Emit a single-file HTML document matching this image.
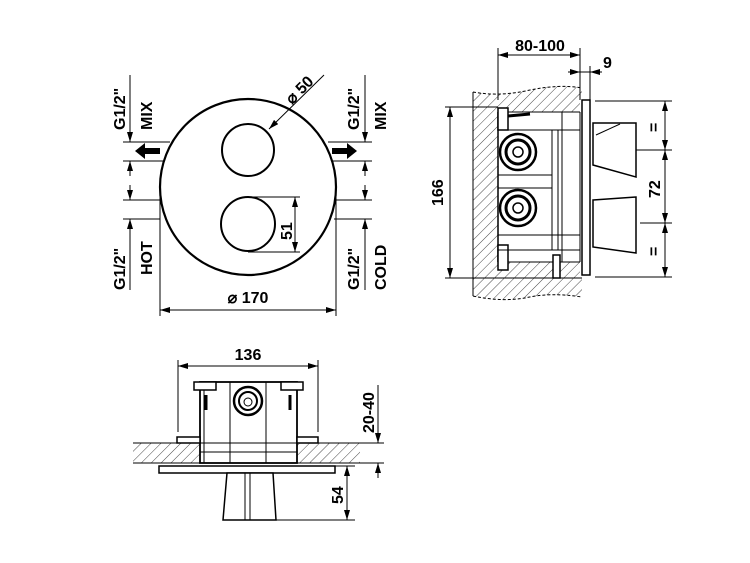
<!DOCTYPE html>
<html><head><meta charset="utf-8"><style>
html,body{margin:0;padding:0;background:#fff;}
svg{display:block}
text{font-family:"Liberation Sans",Arial,sans-serif;font-weight:bold;font-size:16px;fill:#000}
</style></head><body>
<svg width="750" height="563" viewBox="0 0 750 563" xmlns="http://www.w3.org/2000/svg">
<defs>
<marker id="a" viewBox="0 0 10 6" refX="10" refY="3" markerWidth="10" markerHeight="6" orient="auto-start-reverse" markerUnits="userSpaceOnUse"><path d="M0,0L10,3L0,6z" fill="#000"/></marker>
<pattern id="h" width="7" height="7" patternUnits="userSpaceOnUse" patternTransform="rotate(45)"><line x1="0" y1="0" x2="0" y2="7" stroke="#333" stroke-width="0.9"/></pattern>
</defs>
<g stroke="#000" fill="none" stroke-width="1">
<circle cx="248" cy="187" r="88" stroke-width="2.2"/>
<circle cx="248" cy="150" r="26" stroke-width="2"/>
<circle cx="248" cy="224" r="27" stroke-width="2"/>
<line x1="248" y1="197" x2="300" y2="197"/>
<line x1="248" y1="252" x2="300" y2="252"/>
<line x1="295" y1="197" x2="295" y2="252" marker-start="url(#a)" marker-end="url(#a)"/>
<line x1="324" y1="75" x2="269" y2="129" marker-end="url(#a)"/>
<line x1="160" y1="190" x2="160" y2="316"/>
<line x1="336" y1="190" x2="336" y2="316"/>
<line x1="160" y1="310" x2="336" y2="310" marker-start="url(#a)" marker-end="url(#a)"/>
<line x1="123" y1="142" x2="170" y2="142"/>
<line x1="123" y1="161" x2="165" y2="161"/>
<line x1="123" y1="200" x2="160" y2="200"/>
<line x1="123" y1="219" x2="160" y2="219"/>
<line x1="130" y1="75" x2="130" y2="142" marker-end="url(#a)"/>
<line x1="130" y1="176" x2="130" y2="161" marker-end="url(#a)"/>
<line x1="130" y1="185" x2="130" y2="200" marker-end="url(#a)"/>
<line x1="130" y1="290" x2="130" y2="219" marker-end="url(#a)"/>
<line x1="328" y1="142" x2="372" y2="142"/>
<line x1="332" y1="161" x2="372" y2="161"/>
<line x1="334" y1="200" x2="372" y2="200"/>
<line x1="334" y1="219" x2="372" y2="219"/>
<line x1="365" y1="75" x2="365" y2="142" marker-end="url(#a)"/>
<line x1="365" y1="176" x2="365" y2="161" marker-end="url(#a)"/>
<line x1="365" y1="185" x2="365" y2="200" marker-end="url(#a)"/>
<line x1="365" y1="290" x2="365" y2="219" marker-end="url(#a)"/>
</g>
<path d="M135,151 L145,143 L145,148 L160,148 L160,154 L145,154 L145,159z" fill="#000"/>
<path d="M357,151 L347,143 L347,148 L332,148 L332,154 L347,154 L347,159z" fill="#000"/>
<text transform="translate(125,130) rotate(-90)">G1/2"</text>
<text transform="translate(152,130) rotate(-90)">MIX</text>
<text transform="translate(125,290) rotate(-90)">G1/2"</text>
<text transform="translate(152,275) rotate(-90)">HOT</text>
<text transform="translate(359,130) rotate(-90)">G1/2"</text>
<text transform="translate(386,130) rotate(-90)">MIX</text>
<text transform="translate(359,290) rotate(-90)">G1/2"</text>
<text transform="translate(386,290) rotate(-90)">COLD</text>
<text transform="translate(292,240) rotate(-90)">51</text>
<text transform="translate(292,105) rotate(-45)">⌀ 50</text>
<text x="248" y="303" text-anchor="middle">⌀ 170</text>

<path d="M473,92 Q500,97 530,90 Q560,84 582,88 L582,100 L580,100 L580,112 L498,112 L498,262 L580,262 L580,278 L582,278 L582,297 Q550,292 525,298 Q500,302 473,296 Z" fill="url(#h)" stroke="none"/>
<g stroke="#000" fill="none" stroke-width="1">
<path d="M473,92 Q500,97 530,90 Q560,84 582,88" stroke-dasharray="3,2"/>
<path d="M473,296 Q500,302 525,298 Q550,292 582,297" stroke-dasharray="3,2"/>
<line x1="473" y1="92" x2="473" y2="296"/>
<rect x="582" y="100" width="8" height="175" stroke-width="1.5"/>
<line x1="498" y1="112" x2="580" y2="112"/>
<line x1="498" y1="112" x2="498" y2="262" stroke-width="1.5"/>
<line x1="498" y1="262" x2="580" y2="262"/>
<rect x="498" y="108" width="10" height="22" fill="#fff" stroke-width="1.5"/>
<rect x="498" y="245" width="10" height="25" fill="#fff" stroke-width="1.5"/>
<rect x="553" y="255" width="7" height="23" fill="#fff" stroke-width="1.5"/>
<line x1="508" y1="116" x2="530" y2="114" stroke-width="3"/>
<line x1="498" y1="130" x2="580" y2="130"/>
<line x1="498" y1="175" x2="552" y2="175"/>
<line x1="498" y1="188" x2="552" y2="188"/>
<line x1="498" y1="235" x2="580" y2="235"/>
<line x1="498" y1="250" x2="580" y2="250"/>
<line x1="552" y1="130" x2="552" y2="250"/>
<line x1="558" y1="130" x2="558" y2="250"/>
<line x1="562" y1="112" x2="562" y2="262"/>
<line x1="580" y1="112" x2="580" y2="262"/>
<circle cx="518" cy="152" r="18" stroke-width="2.5"/>
<circle cx="518" cy="152" r="12" stroke-width="3"/>
<circle cx="518" cy="152" r="5" stroke-width="1.5"/>
<circle cx="518" cy="208" r="18" stroke-width="2.5"/>
<circle cx="518" cy="208" r="12" stroke-width="3"/>
<circle cx="518" cy="208" r="5" stroke-width="1.5"/>
<path d="M593,123 L636,123 L636,177 L593,165 Z" fill="#fff" stroke-width="1.5"/>
<line x1="596" y1="135" x2="620" y2="124"/>
<path d="M593,200 L636,197 L636,253 L593,247 Z" fill="#fff" stroke-width="1.5"/>
<line x1="498" y1="48" x2="498" y2="100"/>
<line x1="580" y1="48" x2="580" y2="100"/>
<line x1="498" y1="55" x2="580" y2="55" marker-start="url(#a)" marker-end="url(#a)"/>
<line x1="568" y1="72" x2="580" y2="72" marker-end="url(#a)"/>
<line x1="602" y1="72" x2="590" y2="72" marker-end="url(#a)"/>
<line x1="580" y1="72" x2="590" y2="72"/>
<line x1="590" y1="66" x2="590" y2="100"/>
<line x1="445" y1="107" x2="498" y2="107"/>
<line x1="445" y1="278" x2="582" y2="278"/>
<line x1="450" y1="107" x2="450" y2="278" marker-start="url(#a)" marker-end="url(#a)"/>
<line x1="595" y1="101" x2="672" y2="101"/>
<line x1="636" y1="150" x2="672" y2="150"/>
<line x1="640" y1="223" x2="672" y2="223"/>
<line x1="595" y1="277" x2="672" y2="277"/>
<line x1="665" y1="101" x2="665" y2="150" marker-start="url(#a)" marker-end="url(#a)"/>
<line x1="665" y1="150" x2="665" y2="223" marker-start="url(#a)" marker-end="url(#a)"/>
<line x1="665" y1="223" x2="665" y2="277" marker-start="url(#a)" marker-end="url(#a)"/>
</g>
<text x="540" y="51" text-anchor="middle">80-100</text>
<text x="603" y="68">9</text>
<text transform="translate(443,206) rotate(-90)">166</text>
<text transform="translate(660,198) rotate(-90)">72</text>
<text transform="translate(659,132) rotate(-90)">=</text>
<text transform="translate(659,256) rotate(-90)">=</text>

<rect x="133" y="443" width="67" height="20" fill="url(#h)"/>
<rect x="297" y="443" width="63" height="20" fill="url(#h)"/>
<g stroke="#000" fill="none" stroke-width="1">
<line x1="133" y1="443" x2="360" y2="443"/>
<line x1="133" y1="463" x2="360" y2="463"/>
<rect x="200" y="382" width="97" height="81" stroke-width="1.8"/>
<rect x="194" y="382" width="22" height="8" fill="#fff" stroke-width="1.5"/>
<rect x="281" y="382" width="22" height="8" fill="#fff" stroke-width="1.5"/>
<rect x="177" y="437" width="23" height="6" fill="#fff" stroke-width="1.5"/>
<rect x="297" y="437" width="21" height="6" fill="#fff" stroke-width="1.5"/>
<line x1="204" y1="390" x2="204" y2="463"/>
<line x1="206" y1="395" x2="206" y2="410" stroke-width="3"/>
<line x1="290" y1="395" x2="290" y2="410" stroke-width="3"/>
<line x1="230" y1="382" x2="230" y2="463"/>
<line x1="266" y1="382" x2="266" y2="463"/>
<line x1="200" y1="452" x2="297" y2="452"/>
<circle cx="248" cy="401" r="14" stroke-width="2.5"/>
<circle cx="248" cy="401" r="9" stroke-width="2"/>
<circle cx="248" cy="402" r="4"/>
<rect x="159" y="466" width="176" height="7" stroke-width="1.5"/>
<path d="M227,473 L273,473 L276,520 L223,520 Z" fill="#fff" stroke-width="1.5"/>
<line x1="245" y1="473" x2="245" y2="520"/>
<line x1="250" y1="473" x2="250" y2="520"/>
<line x1="178" y1="360" x2="178" y2="432"/>
<line x1="318" y1="360" x2="318" y2="432"/>
<line x1="178" y1="366" x2="318" y2="366" marker-start="url(#a)" marker-end="url(#a)"/>
<line x1="345" y1="443" x2="384" y2="443"/>
<line x1="345" y1="463" x2="384" y2="463"/>
<line x1="378" y1="385" x2="378" y2="443" marker-end="url(#a)"/>
<line x1="378" y1="478" x2="378" y2="463" marker-end="url(#a)"/>
<line x1="335" y1="466" x2="355" y2="466"/>
<line x1="276" y1="520" x2="355" y2="520"/>
<line x1="347" y1="466" x2="347" y2="520" marker-start="url(#a)" marker-end="url(#a)"/>
</g>
<text x="248" y="360" text-anchor="middle">136</text>
<text transform="translate(374,433) rotate(-90)">20-40</text>
<text transform="translate(343,504) rotate(-90)">54</text>
</svg>
</body></html>
